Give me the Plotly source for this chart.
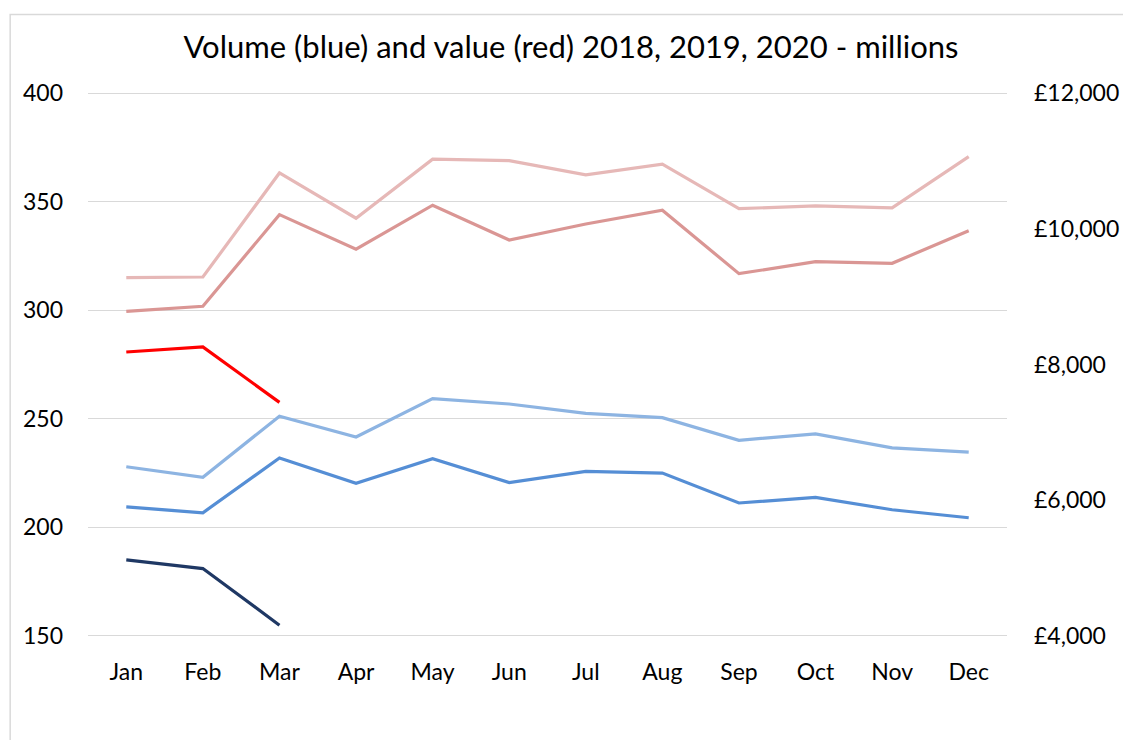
import plotly.graph_objects as go

months = ["Jan", "Feb", "Mar", "Apr", "May", "Jun", "Jul", "Aug", "Sep", "Oct", "Nov", "Dec"]

# Volume (millions) - left axis
volume_2018 = [227.9, 223.0, 251.2, 241.6, 259.3, 256.8, 252.5, 250.5, 240.1, 243.0, 236.6, 234.6]
volume_2019 = [209.4, 206.7, 231.9, 220.3, 231.6, 220.6, 225.8, 225.0, 211.2, 213.8, 208.1, 204.4]
volume_2020 = [185.0, 181.0, 154.9]

# Value (£ millions) - right axis
value_2018 = [9280, 9290, 10824, 10156, 11027, 11006, 10795, 10953, 10298, 10338, 10308, 11065]
value_2019 = [8784, 8858, 10209, 9699, 10348, 9836, 10072, 10274, 9339, 9516, 9492, 9973]
value_2020 = [8184, 8258, 7442]

left_ticks = [150, 200, 250, 300, 350, 400]
right_ticks = [4000, 6000, 8000, 10000, 12000]
right_labels = ["£4,000", "£6,000", "£8,000", "£10,000", "£12,000"]

FONT = "Lato, 'Open Sans', sans-serif"

W, H = 1123, 732
ML, MT, MB = 80, 83.1, 102.1
PW = 921
MR = W - ML - PW
PH = H - MT - MB
plot_bottom = H - MB

fig = go.Figure()

def add(y, color, axis, name):
    fig.add_trace(go.Scatter(
        x=months[:len(y)], y=y, mode="lines", name=name,
        line=dict(color=color, width=3.2), yaxis=axis, hoverinfo="x+y"))

add(value_2018, "#E6B8B7", "y2", "Value 2018")
add(value_2019, "#DA9694", "y2", "Value 2019")
add(value_2020, "#FF0000", "y2", "Value 2020")
add(volume_2018, "#8DB4E2", "y", "Volume 2018")
add(volume_2019, "#558ED5", "y", "Volume 2019")
add(volume_2020, "#1F3864", "y", "Volume 2020")

fig.update_layout(
    width=W, height=H,
    margin=dict(l=ML, r=MR, t=MT, b=MB, pad=0),
    paper_bgcolor="white", plot_bgcolor="white",
    showlegend=False,
    font=dict(family=FONT, size=23, color="#000000"),
    title=dict(text="Volume (blue) and value (red) 2018, 2019, 2020 - millions",
               x=0.5013, xanchor="center", y=0.946, yanchor="middle",
               font=dict(family=FONT, size=31, color="#000000")),
    xaxis=dict(type="category", categoryorder="array", categoryarray=months,
               range=[-0.5, 11.5], showgrid=False, showline=False, zeroline=False,
               ticks="", ticklabelstandoff=18, tickfont=dict(size=23)),
    yaxis=dict(range=[149, 401], tickvals=left_ticks, showgrid=True,
               gridcolor="#D9D9D9", gridwidth=1.3, zeroline=False, showline=False,
               ticks="", ticklabelstandoff=24, tickfont=dict(size=23)),
    yaxis2=dict(range=[3968, 12032], tickvals=right_ticks, ticktext=right_labels,
                overlaying="y", side="right", showgrid=False, zeroline=False,
                showline=False, ticks="", ticklabelstandoff=26,
                tickfont=dict(size=23)),
    shapes=[dict(type="rect", xref="paper", yref="paper",
                 x0=(2 - ML) / PW, x1=(W + 20 - ML) / PW,
                 y0=-(H + 20 - plot_bottom) / PH, y1=(plot_bottom - 6.7) / PH,
                 line=dict(color="#D9D9D9", width=1.5), fillcolor="rgba(0,0,0,0)",
                 layer="below")],
)

fig.write_html("out.html")
